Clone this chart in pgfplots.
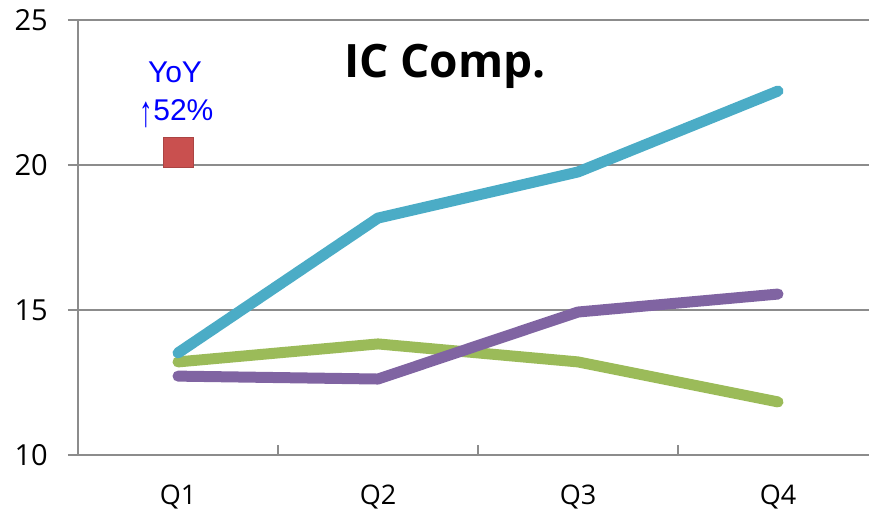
\documentclass[border=0pt]{standalone}
\usepackage{fontspec}
\setmainfont{Open Sans}
\newfontfamily\arialfont{Liberation Sans}
\usepackage{pgfplots}
\pgfplotsset{compat=1.18}
\definecolor{cblue}{HTML}{4BACC6}
\definecolor{cgreen}{HTML}{9BBB59}
\definecolor{cpurple}{HTML}{8064A2}
\definecolor{cred}{HTML}{C9504F}
\definecolor{axgray}{HTML}{8C8C8C}
\begin{document}
\begin{tikzpicture}[x=1pt,y=1pt]
\path[use as bounding box] (0,0) rectangle (869,520);
\begin{axis}[
  at={(78pt,65pt)}, anchor=south west,
  scale only axis, width=791pt, height=435pt,
  xmin=-0.5, xmax=3.455, ymin=10, ymax=25,
  axis x line*=bottom, axis y line*=left,
  axis line style={draw=axgray, line width=1.3pt, -},
  ytick={10,15,20,25},
  ymajorgrids, grid style={draw=axgray, line width=1.3pt},
  ytick align=outside,
  y tick style={draw=axgray, line width=1.3pt},
  major tick length=10pt,
  yticklabel style={font=\fontsize{29}{32}\selectfont, inner sep=0pt, xshift=-20pt},
  xtick={0.5,1.5,2.5}, xticklabels={},
  xtick align=inside,
  x tick style={draw=axgray, line width=1.3pt},
  extra x ticks={0,1,2,3},
  extra x tick labels={Q1,Q2,Q3,Q4},
  extra x tick style={major tick length=0pt, xticklabel style={font=\fontsize{27}{30}\selectfont, yshift=-26pt}},
  /pgf/number format/assume math mode=true,
  clip=false,
]
\addplot[cgreen, line width=11pt, line cap=round, line join=round] coordinates {(0,13.21) (1,13.83) (2,13.21) (3,11.83)};
\addplot[cpurple, line width=11pt, line cap=round, line join=round] coordinates {(0,12.72) (1,12.62) (2,14.93) (3,15.55)};
\addplot[cblue, line width=11pt, line cap=round, line join=round] coordinates {(0,13.52) (1,18.17) (2,19.76) (3,22.55)};
\addplot[only marks, mark=square*, mark size=15pt, mark options={draw=cred!85!black, fill=cred, line width=0.5pt}] coordinates {(0,20.45)};
\node[anchor=base, text=blue, font=\arialfont\fontsize{30}{32}\selectfont] at (axis cs:-0.015,22.83) {YoY};
\node[anchor=base, text=blue, font=\arialfont\fontsize{30}{32}\selectfont] at (axis cs:-0.007,21.52) {\raisebox{-0.18em}{\scalebox{0.9}[1.45]{↑}}52\%};
\node[anchor=base, font=\bfseries\fontsize{46}{50}\selectfont] at (axis cs:1.335,23.03) {IC Comp.};
\end{axis}
\end{tikzpicture}
\end{document}
